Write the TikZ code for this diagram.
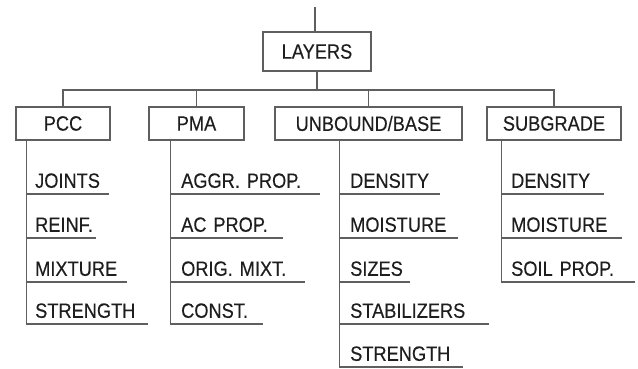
\documentclass[tikz,border=0pt]{standalone}
\usepackage{fontspec}
\setsansfont{Liberation Sans}[FakeStretch=0.88,FakeBold=0.3]
\usepackage{tikz}
\usetikzlibrary{positioning,calc}
\definecolor{lngray}{RGB}{95,95,95}
\definecolor{txblack}{RGB}{30,30,30}

\begin{document}
\begin{tikzpicture}[x=1pt,y=-1pt,
    box/.style={draw=lngray,line width=1.1pt,minimum height=33pt,inner sep=0pt,
                text=txblack,font=\sffamily\fontsize{20.7}{22}\selectfont},
    item/.style={anchor=south west,inner xsep=0pt,inner ysep=6pt,text depth=0pt,
                 align=left,text=txblack,font=\sffamily\fontsize{20.7}{22}\selectfont},
    ln/.style={draw=lngray,line width=1.1pt}]
    \useasboundingbox (0,0) rectangle (638,369);
    % layer boxes
    \node[box,minimum width=108pt,minimum height=39pt] (layers) at (317,51.5) {LAYERS};
    \node[box,minimum width=94pt]  (pcc) at (63,123.5)    {PCC};
    \node[box,minimum width=95pt]  (pma) at (196.5,123.5) {PMA};
    \node[box,minimum width=187pt] (unb) at (368.5,123.5) {UNBOUND/BASE};
    \node[box,minimum width=134pt] (sub) at (554,123.5)   {SUBGRADE};
    \coordinate (topend) at (315,7);
    \coordinate (bus) at (0,90);
    \draw[ln] (topend) -- (topend |- layers.north);
    \draw[ln] (layers.south) -- (layers.south |- bus);
    \draw[ln] (pcc.north) |- (sub.north |- bus) -- (sub.north);
    \draw[ln] (pma.north) -- (pma.north |- bus);
    \draw[ln] (unb.north) -- (unb.north |- bus);
    % stems
    \coordinate (pccstem) at ([xshift=11pt]pcc.south west);
    \coordinate (pmastem) at ([xshift=22pt]pma.south west);
    \coordinate (unbstem) at ([xshift=65pt]unb.south west);
    \coordinate (substem) at ([xshift=15pt]sub.south west);
    % PCC items
    \node[item,text width=74pt] (pcc1) at (35,194) {JOINTS};
    \node[item,text width=61pt] (pcc2) at (35,238) {REINF.};
    \node[item,text width=92pt] (pcc3) at (35,282) {MIXTURE};
    \node[item,text width=113pt] (pcc4) at (35,324) {STRENGTH};
    % PMA items
    \node[item,text width=139pt] (pma1) at (181,194) {AGGR. PROP.};
    \node[item,text width=102pt] (pma2) at (181,238) {AC PROP.};
    \node[item,text width=124pt] (pma3) at (181,282) {ORIG. MIXT.};
    \node[item,text width=82pt]  (pma4) at (181,324) {CONST.};
    % UNBOUND/BASE items
    \node[item,text width=90pt]  (unb1) at (350,194) {DENSITY};
    \node[item,text width=108pt] (unb2) at (350,238) {MOISTURE};
    \node[item,text width=60pt]  (unb3) at (350,282) {SIZES};
    \node[item,text width=139pt] (unb4) at (350,324) {STABILIZERS};
    \node[item,text width=113pt] (unb5) at (350,367) {STRENGTH};
    % SUBGRADE items
    \node[item,text width=93pt]  (sub1) at (511,194) {DENSITY};
    \node[item,text width=111pt] (sub2) at (511,238) {MOISTURE};
    \node[item,text width=124pt] (sub3) at (511,282) {SOIL PROP.};
    % stems and underlines
    \draw[ln] (pccstem) -- (pccstem |- pcc4.south);
    \draw[ln] (pmastem) -- (pmastem |- pma4.south);
    \draw[ln] (unbstem) -- (unbstem |- unb5.south);
    \draw[ln] (substem) -- (substem |- sub3.south);
    \foreach \n in {pcc1,pcc2,pcc3,pcc4}
      \draw[ln] (pccstem |- \n.south) -- (\n.south east);
    \foreach \n in {pma1,pma2,pma3,pma4}
      \draw[ln] (pmastem |- \n.south) -- (\n.south east);
    \foreach \n in {unb1,unb2,unb3,unb4,unb5}
      \draw[ln] (unbstem |- \n.south) -- (\n.south east);
    \foreach \n in {sub1,sub2,sub3}
      \draw[ln] (substem |- \n.south) -- (\n.south east);
\end{tikzpicture}
\end{document}
